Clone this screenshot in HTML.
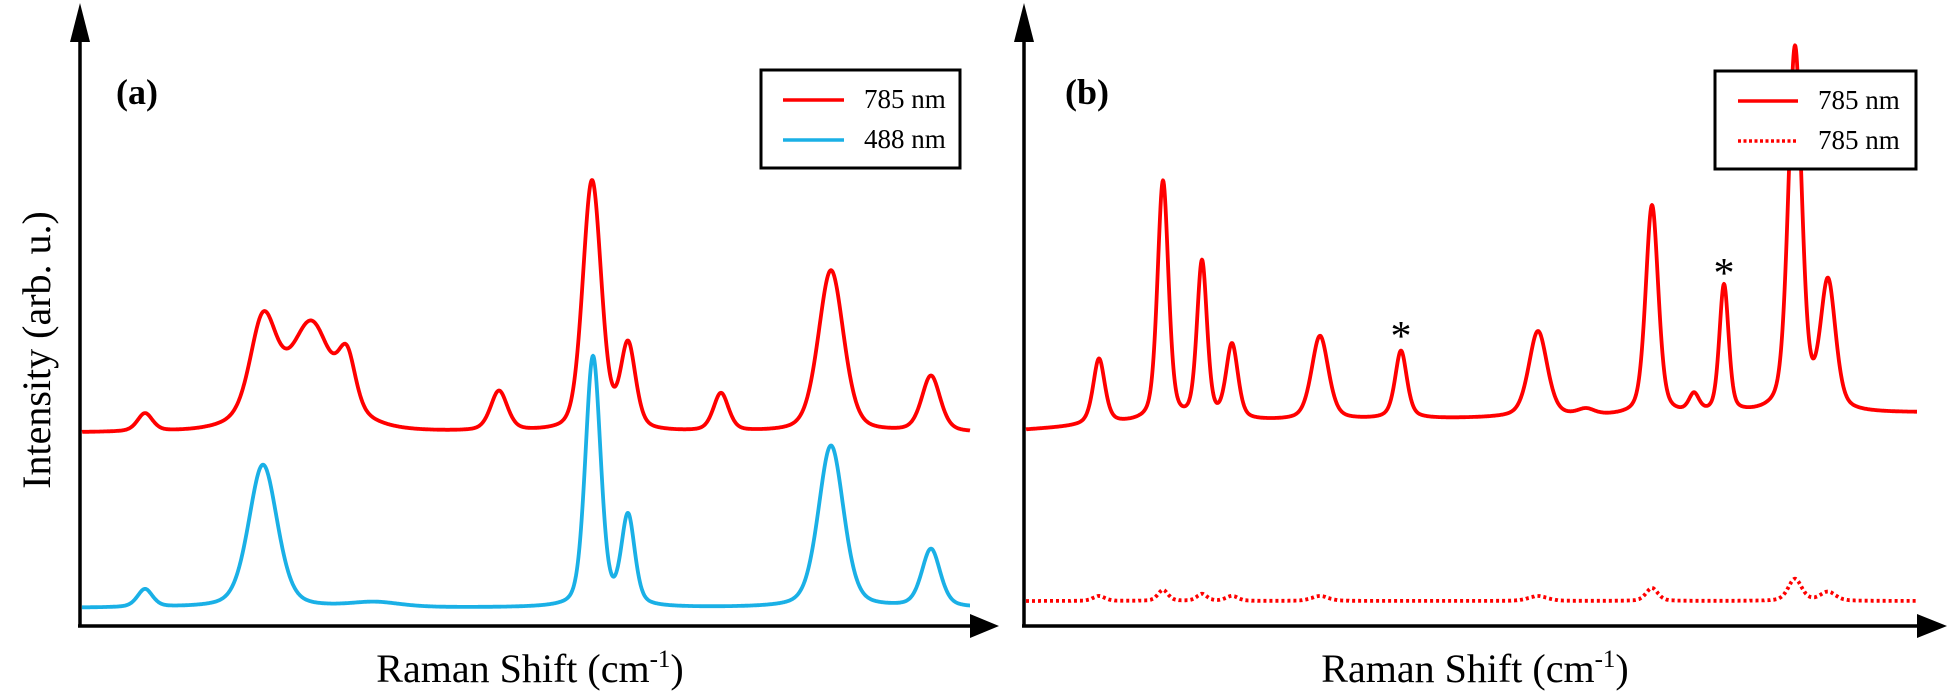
<!DOCTYPE html>
<html><head><meta charset="utf-8"><style>
html,body{margin:0;padding:0;background:#fff;}
svg{display:block;}
text{font-family:"Liberation Serif",serif;}
</style></head><body>
<svg id="s" width="1951" height="696" viewBox="0 0 1951 696" xmlns="http://www.w3.org/2000/svg">
<g id="curves"></g>
<line x1="80" y1="30" x2="80" y2="627" stroke="#000" stroke-width="3.5"/>
<line x1="78" y1="626" x2="975" y2="626" stroke="#000" stroke-width="3.5"/>
<polygon points="80,3 70,42 90,42" fill="#000"/>
<polygon points="999,626 970,614 970,638" fill="#000"/>
<line x1="1024" y1="30" x2="1024" y2="627" stroke="#000" stroke-width="3.5"/>
<line x1="1022" y1="626" x2="1920" y2="626" stroke="#000" stroke-width="3.5"/>
<polygon points="1024,3 1014,42 1034,42" fill="#000"/>
<polygon points="1947,626 1917,614 1917,638" fill="#000"/>
<text x="116" y="104" font-size="36" font-weight="bold">(a)</text>
<text x="1065" y="104" font-size="36" font-weight="bold">(b)</text>
<text transform="translate(50,350) rotate(-90)" text-anchor="middle" font-size="40">Intensity (arb. u.)</text>
<text x="530" y="682" text-anchor="middle" font-size="40">Raman Shift (cm<tspan font-size="25" dy="-15">-1</tspan><tspan dy="15">)</tspan></text>
<text x="1475" y="682" text-anchor="middle" font-size="40">Raman Shift (cm<tspan font-size="25" dy="-15">-1</tspan><tspan dy="15">)</tspan></text>
<rect x="761" y="70" width="199" height="98" fill="#fff" stroke="#000" stroke-width="3"/>
<line x1="783" y1="100" x2="844" y2="100" stroke="#f00" stroke-width="3.5"/>
<line x1="783" y1="140" x2="844" y2="140" stroke="#1ab0e6" stroke-width="3.5"/>
<text x="864" y="108" font-size="27">785 nm</text>
<text x="864" y="148" font-size="27">488 nm</text>
<rect x="1715" y="71" width="201" height="98" fill="#fff" stroke="#000" stroke-width="3"/>
<line x1="1738" y1="101" x2="1798" y2="101" stroke="#f00" stroke-width="3.5"/>
<line x1="1738" y1="141" x2="1798" y2="141" stroke="#f00" stroke-width="3.5" stroke-dasharray="3 2.5"/>
<text x="1818" y="109" font-size="27">785 nm</text>
<text x="1818" y="149" font-size="27">785 nm</text>
<text x="1401" y="350" text-anchor="middle" font-size="42">*</text>
<text x="1724" y="287" text-anchor="middle" font-size="42">*</text>
</svg>
<script>
function V(x,p){var s=0;for(var i=0;i<p.length;i++){var d=(x-p[i][0])/p[i][2];var e=p[i].length>3?p[i][3]:0.4;s+=p[i][1]*((1-e)*Math.exp(-0.693*d*d)+e/(1+d*d));}return s;}
function path(x0,x1,base,p){var d="";for(var x=x0;x<=x1;x+=0.5){var y=base(x)-V(x,p);d+=(x==x0?"M":"L")+x.toFixed(1)+","+y.toFixed(1);}return d;}
var g=document.getElementById("curves"),NS="http://www.w3.org/2000/svg";
function add(d,c,dash,sw){var e=document.createElementNS(NS,"path");e.setAttribute("d",d);e.setAttribute("fill","none");e.setAttribute("stroke",c);e.setAttribute("stroke-width",sw||"3.8");e.setAttribute("stroke-linejoin","round");if(dash)e.setAttribute("stroke-dasharray",dash);g.appendChild(e);}
var ra=[[145,18,9],[263,90,15,0.3],[312,62,20,0.3],[347,52,10,0.3],[303,48,45,0.3],[499,40,10],[592,250,11,0.3],[628,85,9],[721,38,9],[831,162,15,0.35],[931,56,11]];
add(path(82,970,function(){return 433;},ra),"#f00");
var ba=[[145,18,9],[263,143,17,0.35],[375,5,30],[593,250,9,0.3],[628,90,8],[831,162,15,0.35],[931,58,11]];
add(path(82,970,function(){return 608;},ba),"#1ab0e6");
function rb(x){return x<1150?430-(x-1026)*7/124:423-(x-1150)*10/767;}
var rp=[[1099,66,7,0.5],[1163,240,6.5,0.4],[1202,158,6,0.4],[1232,75,7],[1320,84,10],[1401,68,7,0.5],[1538,86,11],[1586,6,10],[1652,210,7.5,0.4],[1694,18,6],[1724,128,5.5,0.4],[1795,365,8,0.4],[1828,128,9]];
add(path(1026,1917,rb,rp),"#f00");
var dp=[[1099,5,7],[1163,11,6],[1202,7,6],[1232,5,7],[1320,5,10],[1538,5,11],[1652,13,7],[1795,22,8],[1828,9,9]];
add(path(1026,1917,function(){return 601;},dp),"#f00","3 3");
</script>
</body></html>
